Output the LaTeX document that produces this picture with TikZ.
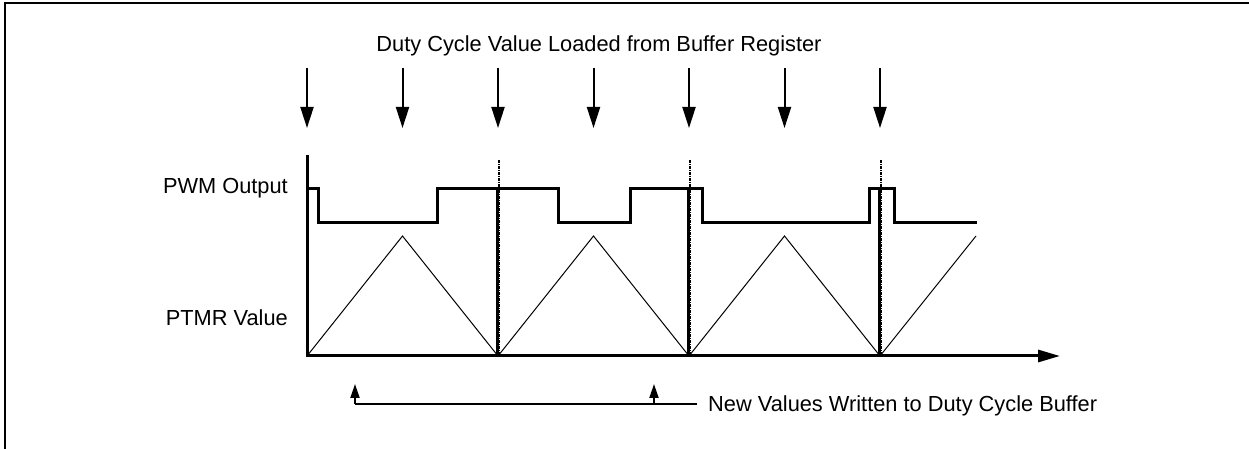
\documentclass[tikz,border=0pt]{standalone}
\usepackage{fontspec}
\setmainfont{Liberation Sans}
\usetikzlibrary{arrows.meta}
\begin{document}
\begin{tikzpicture}[x=1bp,y=-1bp,
  frameline/.style={line width=2.5bp},
  txt/.style={inner sep=0pt,font=\fontsize{21.8bp}{26bp}\selectfont},
  loadarrow/.style={line width=2bp,-{Triangle[length=21bp,width=13bp]}},
  writearrow/.style={line width=2bp,-{Triangle[length=14bp,width=9bp]}},
  writeline/.style={line width=2.5bp},
  axisline/.style={line width=3bp,line join=miter,-{Triangle[length=22bp,width=12bp]}},
  waveline/.style={line width=3bp,line join=miter},
  triline/.style={line width=1bp,line join=miter},
  markdash/.style={line width=2bp,dash pattern=on 3bp off 1bp on 1bp off 1bp},
  marksolid/.style={line width=2.2bp}]
\useasboundingbox (0,0) rectangle (1249,449);
% frame
\draw[frameline] (5,449) -- (5,3) -- (1249,3);
% title
\node[txt,anchor=base] (title) at (599,52) {Duty Cycle Value Loaded from Buffer Register};
% load arrows
\foreach \x [count=\i] in {307,402.5,498,593.5,689,784.5,880} {
  \coordinate (ls\i) at (\x,68);
  \coordinate (lt\i) at (\x,128);
  \draw[loadarrow] (ls\i) -- (lt\i);
}
% labels
\node[txt,anchor=base east] (pwm) at (288,194) {PWM Output};
\node[txt,anchor=base east] (ptmr) at (288,326) {PTMR Value};
% markers
\foreach \x [count=\i] in {498,689,880} {
  \coordinate (mt\i) at (\x+1,160);
  \coordinate (mb\i) at (\x+1,356);
  \coordinate (mh\i) at (\x-0.5,189);
  \coordinate (ms\i) at (\x-0.5,356);
  \draw[markdash] (mt\i) -- (mb\i);
  \draw[marksolid] (mh\i) -- (ms\i);
}
% triangle (PTMR)
\draw[triline] (307,356) -- (402.5,236) -- (498,356) -- (593.5,236) -- (689,356)
  -- (784.5,236) -- (880,356) -- (976,236);
% PWM output
\draw[waveline] (307,189) -- (318,189) -- (318,223) -- (437,223) -- (437,189)
  -- (558,189) -- (558,223) -- (630,223) -- (630,189) -- (702,189) -- (702,223)
  -- (869,223) -- (869,189) -- (894,189) -- (894,223) -- (977,223);
% axes
\coordinate (ytop) at (307,155);
\coordinate (origin) at (307,356);
\coordinate (xend) at (1060,356);
\draw[axisline] (ytop) -- (origin) -- (xend);
% write arrows
\coordinate (wl) at (355,404);
\coordinate (wlt) at (355,384);
\coordinate (wm) at (654,404);
\coordinate (wmt) at (654,384);
\node[txt,anchor=base west] (newval) at (708,412) {New Values Written to Duty Cycle Buffer};
\coordinate (wr) at (697,404);
\draw[writeline] (wr) -- (wl);
\draw[writearrow] (wl) -- (wlt);
\draw[writearrow] (wm) -- (wmt);
\end{tikzpicture}
\end{document}
